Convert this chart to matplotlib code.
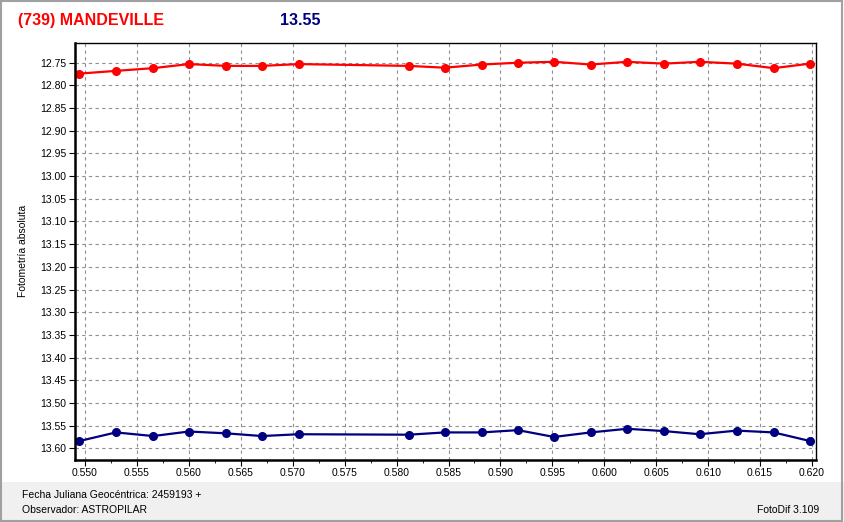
import matplotlib.pyplot as plt
from matplotlib.patches import Rectangle
from matplotlib.ticker import MultipleLocator

# Julian date fraction (2459193 +) for each measurement
jd = [0.54945, 0.55298, 0.55655, 0.56001, 0.56358, 0.56704, 0.57058,
      0.58117, 0.58466, 0.58820, 0.59169, 0.59516, 0.59869, 0.60219,
      0.60572, 0.60918, 0.61275, 0.61631, 0.61981]

# red series (asteroid photometry)
mag_red = [12.774, 12.768, 12.762, 12.753, 12.757, 12.757, 12.753,
           12.757, 12.761, 12.754, 12.750, 12.748, 12.754, 12.748,
           12.752, 12.748, 12.752, 12.762, 12.752]

# blue series
mag_blue = [13.584, 13.565, 13.573, 13.563, 13.567, 13.573, 13.569,
            13.570, 13.565, 13.565, 13.560, 13.575, 13.565, 13.557,
            13.562, 13.569, 13.561, 13.565, 13.584]

title_left = "(739) MANDEVILLE"
title_right = "13.55"

plt.rcParams["font.family"] = ["Liberation Sans", "DejaVu Sans"]

fig = plt.figure(figsize=(8.44, 5.22), dpi=100)

# footer panel and outer frame
fig.patches.append(Rectangle((0, 0), 1, 40 / 522, transform=fig.transFigure,
                             facecolor="#f0f0f0", edgecolor="none", zorder=0))
fig.patches.append(Rectangle((0.001, 0.002), 0.997, 0.996, transform=fig.transFigure,
                             facecolor="none", edgecolor="#a0a0a0", linewidth=1.5, zorder=1))

ax = fig.add_axes([75 / 844, 1 - 459.5 / 522, 740.5 / 844, 416.2 / 522])

ax.plot(jd, mag_red, color="#ff0000", linewidth=1.6, marker="o", markersize=5.5)
ax.plot(jd, mag_blue, color="#000080", linewidth=1.6, marker="o", markersize=5.5)

ax.set_xlim(0.549037, 0.620337)
ax.set_ylim(13.6247, 12.7072)

ax.xaxis.set_major_locator(MultipleLocator(0.005))
ax.xaxis.set_minor_locator(MultipleLocator(0.0025))
ax.yaxis.set_major_locator(MultipleLocator(0.05))
ax.xaxis.set_major_formatter(plt.FormatStrFormatter("%.3f"))
ax.yaxis.set_major_formatter(plt.FormatStrFormatter("%.2f"))

ax.grid(True, which="major", linestyle=(0, (3, 3)), color="#909090", linewidth=0.8)
ax.tick_params(axis="both", which="major", labelsize=7.5, length=4, color="#000000", pad=2)
ax.tick_params(axis="x", which="minor", length=2)

for side in ["left", "bottom"]:
    ax.spines[side].set_linewidth(1.8)
for side in ["top", "right"]:
    ax.spines[side].set_linewidth(1.0)

ax.set_ylabel("Fotometría absoluta", fontsize=7.5)
ax.yaxis.set_label_coords(-47 / 740.5, 0.5)

fig.text(18 / 844, 1 - 25 / 522, title_left, color="#ff0000", fontsize=11.5,
         fontweight="bold", ha="left", va="baseline")
fig.text(280 / 844, 1 - 25 / 522, title_right, color="#000080", fontsize=11.5,
         fontweight="bold", ha="left", va="baseline")

fig.text(22 / 844, 1 - 498 / 522, "Fecha Juliana Geocéntrica: 2459193 +",
         fontsize=7.5, ha="left", va="baseline", zorder=3)
fig.text(22 / 844, 1 - 513 / 522, "Observador: ASTROPILAR",
         fontsize=7.5, ha="left", va="baseline", zorder=3)
fig.text(819 / 844, 1 - 513 / 522, "FotoDif 3.109",
         fontsize=7.5, ha="right", va="baseline", zorder=3)

plt.savefig("out.png", dpi=100)
